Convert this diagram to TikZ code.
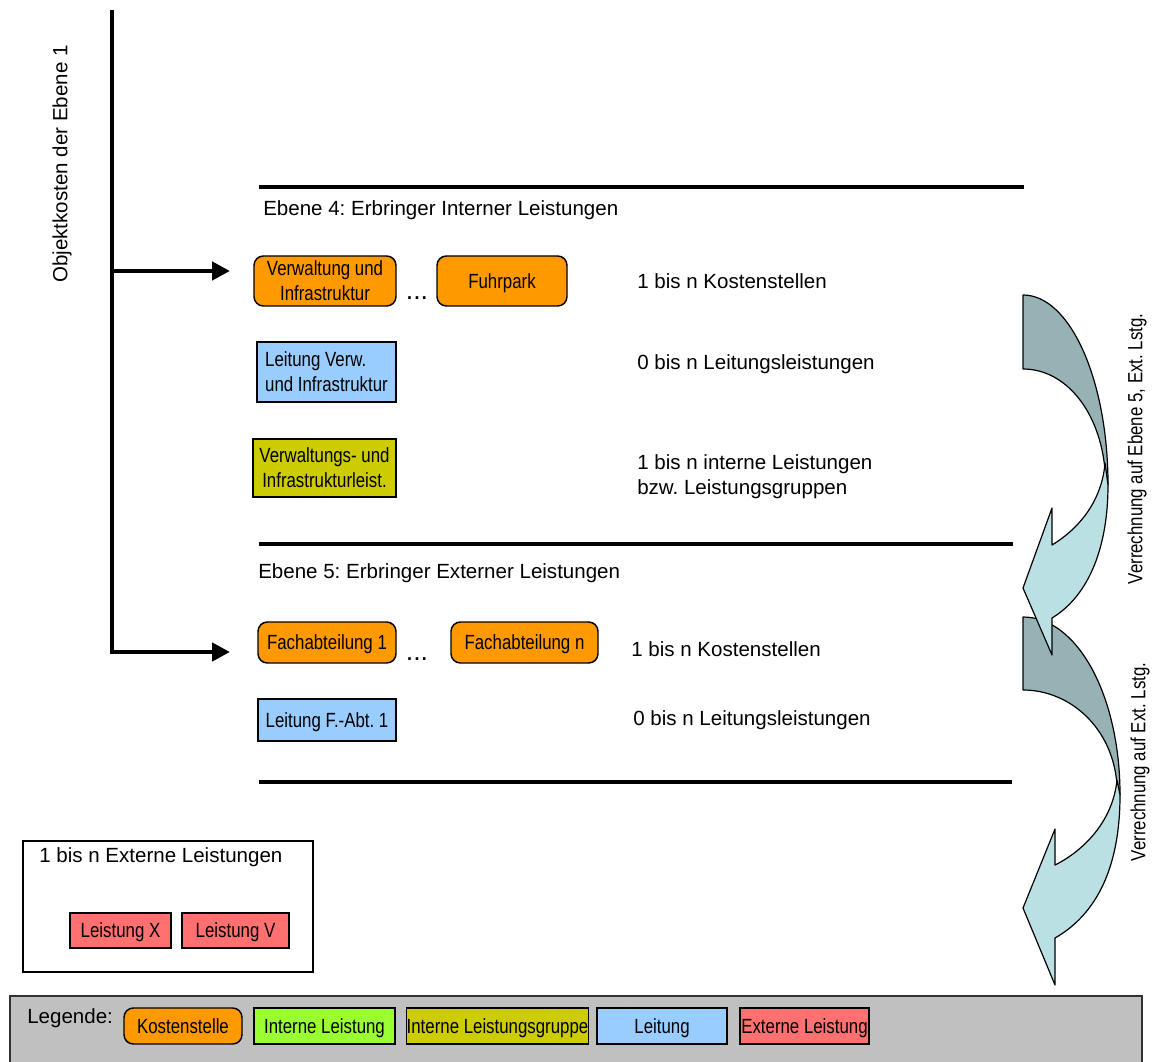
\documentclass[tikz,border=0pt]{standalone}
\usepackage{fontspec}
\setmainfont{Liberation Sans}
\newfontfamily\narrowfont{Liberation Sans}[FakeStretch=0.82]
\usetikzlibrary{arrows.meta}
\frenchspacing

\definecolor{kstorange}{HTML}{FF9900}
\definecolor{intgreen}{HTML}{99FF33}
\definecolor{grpolive}{HTML}{CCCC00}
\definecolor{leitblue}{HTML}{99CCFF}
\definecolor{extred}{HTML}{FF7070}
\definecolor{legendgray}{HTML}{C0C0C0}
\definecolor{arrdark}{HTML}{96B2B5}
\definecolor{arrlight}{HTML}{BBE0E3}

% box placed by its corners (x1,y1)-(x2,y2)
\newcommand\boxnode[7]{%
  \node[#2, minimum width={(#5-#3)*0.75pt}, minimum height={(#6-#4)*0.75pt}]
    (#1) at ({(#3+#5)/2},{(#4+#6)/2}) {#7};}

\tikzset{
  basefont/.style={font=\fontsize{15.4}{18.8}\selectfont},
  label/.style={basefont, inner sep=0pt, anchor=west, align=left},
  box/.style={draw=black, line width=1.1pt, inner sep=0pt, align=center,
    text=black, font=\narrowfont\fontsize{15.4}{18.8}\selectfont,
    text depth=0.5pt},
  kst/.style={box, fill=kstorange, rounded corners=7pt},
  intl/.style={box, fill=intgreen},
  grp/.style={box, fill=grpolive},
  leit/.style={box, fill=leitblue},
  extl/.style={box, fill=extred},
  ellipsis/.style={font=\fontsize{20}{24}\selectfont, inner sep=0pt},
  sepline/.style={line width=3pt},
  mainline/.style={line width=3.6pt, line join=miter},
  feed/.style={mainline, -{Triangle[length=13.5pt,width=13.5pt]}},
  backband/.style={fill=arrdark, draw=black, line width=0.9pt, line join=round},
  frontband/.style={fill=arrlight, draw=black, line width=0.9pt, line join=round},
  sidelabel/.style={font=\narrowfont\fontsize{15.4}{18.8}\selectfont, rotate=90, inner sep=0pt},
}

\begin{document}
\begin{tikzpicture}[x=0.75pt, y=-0.75pt]
\useasboundingbox (0,0) rectangle (1155,1062);

% main feed line with its two branches
\coordinate (top) at (112,10);
\coordinate (j1) at (112,271);
\coordinate (tip1) at (230,271);
\coordinate (tip2) at (230,652);
\draw[mainline] (top) -- (j1);
\draw[feed] (j1) -- (tip1);
\draw[feed] (j1) |- (tip2);
\node[basefont, rotate=90, inner sep=0pt] (objk) at (62,164) {Objektkosten der Ebene 1};

% level separators
\draw[sepline] (259,187) -- (1024,187);
\draw[sepline] (259,544) -- (1013,544);
\draw[sepline] (259,782) -- (1012,782);

% level 4
\node[label] (e4) at (263,210) {Ebene 4: Erbringer Interner Leistungen};
\boxnode{vi}{kst}{254}{256}{396}{306}{Verwaltung und\\Infrastruktur}
\node[ellipsis] (dots4) at (417,298) {...};
\boxnode{fp}{kst}{437}{256}{567}{306}{Fuhrpark}
\boxnode{lv}{leit, align=left}{257}{342}{396}{402}{Leitung Verw.\\und Infrastruktur}
\boxnode{vil}{grp}{253}{439}{396}{497}{Verwaltungs- und\\Infrastrukturleist.}
\node[label] (n4a) at (637,281) {1 bis n Kostenstellen};
\node[label] (n4b) at (637,364) {0 bis n Leitungsleistungen};
\node[label] (n4c) at (637,477) {1 bis n interne Leistungen\\bzw. Leistungsgruppen};

% level 5
\node[label] (e5) at (258,573) {Ebene 5: Erbringer Externer Leistungen};
\boxnode{fa1}{kst}{258}{622}{396}{663}{Fachabteilung 1}
\node[ellipsis] (dots5) at (417,659) {...};
\boxnode{fan}{kst}{451}{622}{598}{663}{Fachabteilung n}
\boxnode{lfa}{leit}{258}{699}{396}{741}{Leitung F.-Abt. 1}
\node[label] (n5a) at (631,649) {1 bis n Kostenstellen};
\node[label] (n5b) at (633,720) {0 bis n Leitungsleistungen};

% external services
\node[draw=black, line width=1.1pt, minimum width={290*0.75pt}, minimum height={131*0.75pt}, inner sep=0pt] (extbox) at (168,906.5) {};
\node[label] (extlbl) at (39,857) {1 bis n Externe Leistungen};
\boxnode{lx}{extl}{70}{913}{171}{948}{Leistung X}
\boxnode{lvv}{extl}{182}{913}{289}{948}{Leistung V}

% curved allocation arrow to external services (drawn first, lies behind)
\path[backband] (1023,617) .. controls (1077,617) and (1120,695) .. (1120,795)
  -- (1117,785) .. controls (1113,728) and (1070,690) .. (1023,690) -- cycle;
\path[frontband] (1120,795) .. controls (1120,870) and (1095,915) .. (1055,938)
  -- (1055,985) -- (1023,908) -- (1055,829) -- (1055,865)
  .. controls (1085,850) and (1113,820) .. (1117,780) -- cycle;

% curved allocation arrow to level 5
\path[backband] (1023,295) .. controls (1070,295) and (1108,380) .. (1108,485)
  -- (1105,470) .. controls (1100,412) and (1066,369) .. (1023,369) -- cycle;
\path[frontband] (1108,485) .. controls (1108,545) and (1090,595) .. (1052,618)
  -- (1052,655) -- (1023,588) -- (1052,508) -- (1052,545)
  .. controls (1080,528) and (1102,500) .. (1105,463) -- cycle;

\node[sidelabel] (v1) at (1137,449) {Verrechnung auf Ebene 5, Ext. Lstg.};
\node[sidelabel] (v2) at (1140,762) {Verrechnung auf Ext. Lstg.};

% legend bar
\fill[legendgray] (10,996) rectangle (1142,1070);
\draw[line width=1.6pt, draw=black!80] (10,1070) -- (10,996) -- (1142,996) -- (1142,1070);
\node[label] (leg) at (27,1018) {Legende:};
\boxnode{lk}{kst}{124}{1008}{242}{1044}{Kostenstelle}
\boxnode{li}{intl}{254}{1008}{395}{1044}{Interne Leistung}
\boxnode{lg}{grp}{407}{1008}{588}{1044}{Interne Leistungsgruppe}
\boxnode{ll}{leit}{597}{1008}{727}{1044}{Leitung}
\boxnode{le}{extl}{740}{1008}{869}{1044}{Externe Leistung}
\end{tikzpicture}
\end{document}
